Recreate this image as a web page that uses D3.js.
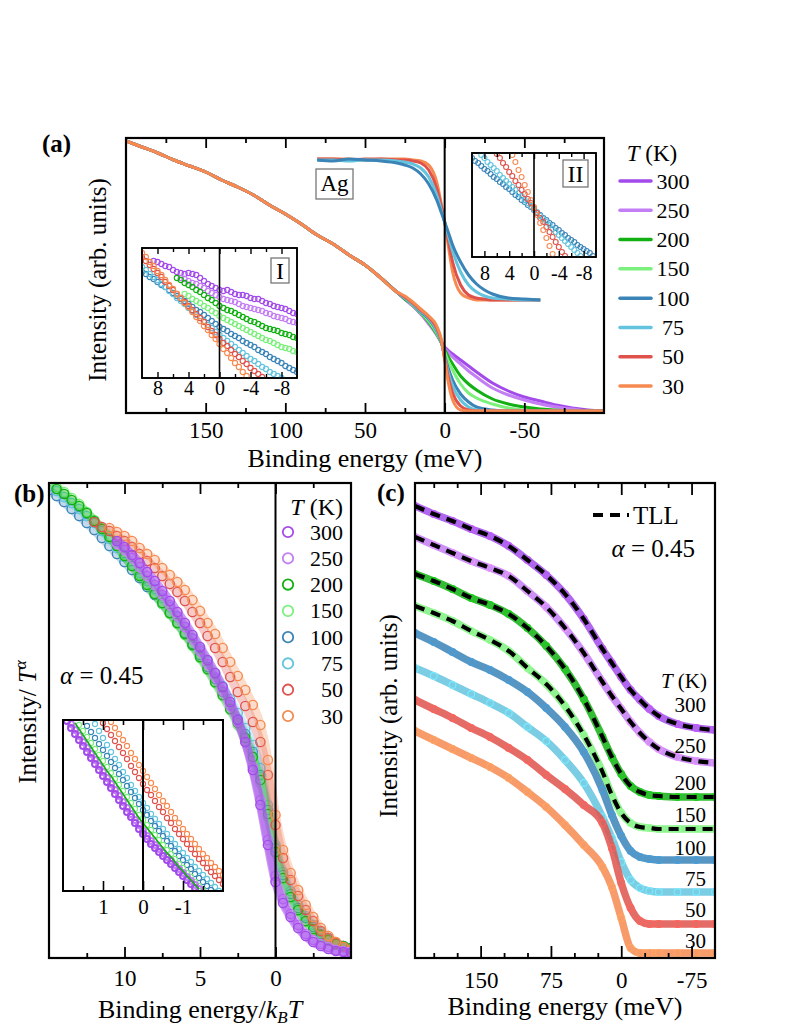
<!DOCTYPE html>
<html><head><meta charset="utf-8">
<script src="https://cdn.jsdelivr.net/npm/d3@7"></script>
<style>
body{margin:0;background:#fff;}
svg text{font-family:"Liberation Serif","DejaVu Serif","Times New Roman",serif !important;}
</style>
</head><body>
<script>
// ---------------- DATA ----------------
const temps = [300, 250, 200, 150, 100, 75, 50, 30];
const tempColors = ["#a24bea", "#c47ef5", "#12b012", "#7cf07c", "#3a84b8", "#64c4de", "#df524c", "#f68a50"];

// Panel (a): main spectra (binding energy in meV, intensity arb. units)
const aEnergyHigh = [200,190,180,170,160,150,140,130,120,110,100,90,80,70,60,50,40,30];
const aIntensityHigh = [272,266,260,253,247,241,233,226,218,208,199,189,178,169,158,148,135,121];
const aEnergyLow = [25,20,15,10,5,2,0,-2,-5,-10,-15,-20,-30,-40,-50,-60,-70,-80,-90,-100];
const aLow300 = [114,107,99,90,79,71,66,63,59,53,47,41,30,22,16,12,8,5,3,2];
const aLow250 = [114,107,99,89,78,70,65,61,56,49,42,36,25,18,13,9,6,4,2,2];
const aLow200 = [114,108,100,91,79,70,63,57,49,37,29,23,14,9,6,4,3,2,2,2];
const aLow150 = [115,108,100,92,80,70,61,53,43,29,20,15,9,5,3,2,2,2,2,2];
const aLow100 = [115,109,101,94,82,70,57,46,33,19,11,6,3,2,2,2,2,2,2,2];
const aLow75  = [115,109,102,95,83,71,56,42,27,13,6,3,2,2,2,2,2,2,2,2];
const aLow50  = [116,110,103,96,85,72,55,38,20,7,3,2,2,2,2,2,2,2,2,2];
const aLow30  = [117,111,104,97,87,73,53,33,13,3,2,2,2,2,2,2,2,2,2,2];

// Panel (a): Ag reference spectra
const agTemps = [100, 75, 50, 30];
const agEnergy = [80,70,60,50,40,30,25,20,15,10,5,2,0,-2,-5,-10,-15,-20,-25,-30,-40,-50,-60];
const ag100 = [253,252,254,253,252,250,248,245,239,229,213,200,191,182,168,151,138,129,123,119,115,114,113];
const ag75  = [253,253,252,253,253,252,251,249,245,236,218,202,191,179,162,141,128,121,117,115,114,113,113];
const ag50  = [254,254,253,254,254,253,253,252,250,243,225,206,191,175,151,128,118,115,114,113,113,113,113];
const ag30  = [254,254,254,253,254,254,254,253,252,248,231,208,191,170,141,120,115,113,113,113,113,113,113];

// Inset I and II energy grid (meV)
const insetEnergy = [10,9.5,9,8.5,8,7.5,7,6.5,6,5.5,5,4.5,4,3.5,3,2.5,2,1.5,1,0.5,0,-0.5,-1,-1.5,-2,-2.5,-3,-3.5,-4,-4.5,-5,-5.5,-6,-6.5,-7,-7.5,-8,-8.5,-9,-9.5,-10];
const insetI300 = [null,null,null,117,116,114,112,111,108,106,105,104,105,104,103,100,97,94,92,90,88,87,88,86,84,83,83,82,80,79,79,77,75,74,72,71,70,69,67,65,64];
const insetI250 = [null,null,null,null,null,null,null,null,null,null,100,99,97,95,94,92,90,87,85,83,81,79,78,77,76,74,72,71,70,69,68,67,65,64,62,61,60,59,57,56,55];
const insetI200 = [null,null,null,null,null,null,null,null,null,100,98,95,93,91,88,86,83,80,78,75,72,70,68,67,65,63,61,59,57,56,54,52,50,49,48,47,45,44,43,41,40];
const insetI150 = [null,null,null,null,null,null,null,null,null,null,null,84,82,79,77,75,72,70,67,65,62,60,58,56,54,52,50,48,46,44,42,40,38,37,35,33,31,30,29,27,26];
const insetI100 = [106,104,101,99,96,93,91,88,85,82,79,77,74,71,68,66,63,60,57,54,51,49,47,44,42,40,37,35,33,31,28,26,24,21,19,17,15,12,10,8,6];
const insetI75  = [111,108,104,101,98,94,91,87,84,80,77,74,70,67,63,60,57,53,50,46,43,40,37,34,31,28,25,22,19,17,14,11,9,6,4,2,0,null,null,null,null];
const insetI50  = [121,117,113,109,105,101,96,92,88,84,80,76,72,68,64,60,56,51,47,43,39,35,32,28,24,21,17,14,10,7,4,1,null,null,null,null,null,null,null,null,null];
const insetI30  = [125,121,116,112,107,103,98,93,89,84,80,75,71,66,61,57,52,48,43,39,34,29,25,20,15,11,6,2,null,null,null,null,null,null,null,null,null,null,null,null,null];

const insetII100 = [99,96,94,91,88,86,83,80,78,75,73,70,68,65,62,60,57,55,52,50,47,44,42,39,37,34,32,29,27,24,22,19,17,15,12,10,8,6,4,1,null];
const insetII75  = [null,null,null,102,99,95,92,89,86,82,79,76,73,70,67,64,61,57,54,51,48,45,41,38,35,32,28,25,22,19,16,13,10,7,4,1,null,null,null,null,null];
const insetII50  = [null,null,null,null,null,null,null,null,103,99,94,90,85,81,76,72,67,63,58,54,49,44,39,35,30,25,20,15,10,5,1,null,null,null,null,null,null,null,null,null,null];
const insetII30  = [null,null,null,null,null,null,null,null,null,null,null,null,null,102,95,87,80,72,65,57,50,42,34,27,19,11,3,null,null,null,null,null,null,null,null,null,null,null,null,null,null];

// Panel (b): binding energy / kBT and Intensity / T^alpha
const bScaled = [15,14.5,14,13.5,13,12.5,12,11.5,11,10.5,10,9.5,9,8.5,8,7.5,7,6.5,6,5.5,5,4.5,4,3.5,3,2.5,2,1.5,1,0.5,0,-0.5,-1,-1.5,-2,-2.5,-3,-3.5,-4,-4.5,-5];
const b300 = [null,null,null,null,null,null,null,null,null,417,411,403,395,386,377,367,357,346,335,323,311,298,285,271,256,238,216,188,153,113,76,55,41,30,22,16,12,9,7,6,5];
const b250 = [null,null,null,null,null,null,null,null,null,414,408,400,391,382,373,363,353,342,331,319,307,294,281,267,252,236,216,191,158,118,82,59,44,33,24,18,14,11,8,7,6];
const b200 = [null,469,464,458,452,445,437,429,421,412,402,392,382,373,364,355,345,335,324,313,301,289,276,263,249,235,220,201,178,144,106,80,61,48,37,29,23,18,14,12,10];
const b150 = [476,471,466,460,454,446,438,430,422,413,403,393,383,374,364,354,344,334,323,312,300,288,275,262,248,233,217,198,175,141,105,79,60,47,36,28,22,17,13,11,9];
const b100 = [468,462,456,449,442,435,428,420,412,404,396,388,380,371,363,354,345,335,325,314,303,291,279,266,253,239,224,206,183,148,110,83,64,50,40,31,24,19,15,12,9];
const b75  = [472,467,461,455,449,442,435,427,419,410,401,393,385,377,369,360,351,341,331,320,309,297,285,272,259,245,230,213,190,153,113,86,67,53,42,33,26,20,15,12,9];
const b50  = [null,null,null,null,null,null,436,431,427,422,417,411,404,397,390,382,374,366,357,346,335,322,310,296,281,266,252,236,216,183,133,100,78,62,48,37,27,20,15,11,8];
const b30  = [null,null,null,null,null,null,null,null,430,426,422,417,410,404,398,390,383,376,368,358,347,335,324,310,296,282,268,253,233,198,143,108,85,68,53,41,30,22,16,11,8];

// Panel (b) inset
const bInsetScaled = [2,1.9,1.8,1.7,1.6,1.5,1.4,1.3,1.2,1.1,1,0.9,0.8,0.7,0.6,0.5,0.4,0.3,0.2,0.1,0,-0.1,-0.2,-0.3,-0.4,-0.5,-0.6,-0.7,-0.8,-0.9,-1,-1.1,-1.2,-1.3,-1.4,-1.5,-1.6,-1.7,-1.8,-1.9,-2];
const bIn300 = [null,170,163,157,151,145,139,133,127,121,115,109,103,97,91,85,79,74,68,62,57,52,47,43,39,35,31,27,23,19,15,11,7,3,null,null,null,null,null,null,null];
const bIn250 = [null,null,167,161,155,149,143,137,131,125,119,113,107,101,95,89,83,77,71,66,60,55,50,46,42,38,34,30,26,22,18,14,10,6,2,null,null,null,null,null,null];
const bIn200 = [null,null,null,168,162,156,150,144,138,132,126,120,115,109,103,97,91,85,79,73,68,63,58,53,48,43,38,34,29,24,20,15,11,6,2,null,null,null,null,null,null];
const bIn150 = [null,null,null,null,166,160,154,148,142,136,130,124,118,112,106,100,94,88,82,76,71,66,61,56,51,46,41,37,32,27,23,18,14,9,5,1,null,null,null,null,null];
const bIn100 = [null,null,null,null,null,null,165,159,153,147,141,135,129,123,117,111,105,99,93,87,81,76,70,65,60,55,50,45,40,35,31,26,22,17,13,9,5,1,null,null,null];
const bIn75  = [null,null,null,null,null,null,null,null,167,160,153,146,139,132,126,119,113,106,100,94,88,83,77,72,67,62,57,52,47,42,38,33,29,24,20,16,12,8,4,0,null];
const bIn50  = [null,null,null,null,null,null,null,null,null,null,168,162,156,150,144,138,132,125,119,113,107,101,96,90,84,79,73,68,62,57,52,47,42,37,32,28,23,19,15,11,7];
const bIn30  = [null,null,null,null,null,null,null,null,null,null,null,null,169,163,157,151,145,138,132,126,120,114,108,102,96,90,85,79,73,68,62,57,52,47,42,37,33,28,24,20,16];

// Panel (c): offset spectra (meV, arb. units)
const cEnergy = [220,200,180,160,140,120,100,80,60,40,20,10,0,-10,-20,-30,-40,-60,-80,-100];
const c300 = [452,444,437,429,422,412,398,383,364,339,309,295,281,268,258,249,242,234,230,228];
const c250 = [421,413,405,397,390,382,367,351,330,305,276,262,249,236,225,216,209,201,197,195];
const c200 = [384,377,369,360,353,344,330,312,289,259,221,201,184,172,166,163,162,161,161,161];
const c150 = [352,345,337,327,318,307,290,274,252,223,186,163,145,135,131,130,129,129,129,129];
const c100 = [325,316,306,296,288,278,266,250,231,206,168,143,122,107,101,99,98,98,98,98];
const c75  = [290,282,273,264,255,245,231,217,198,175,141,120,96,78,70,67,66,66,66,66];
const c50  = [258,249,240,230,221,210,198,183,169,153,135,110,75,50,37,34,34,34,34,34];
const c30  = [227,218,209,200,191,180,166,151,133,113,91,71,40,10,5,5,5,5,5,5];
const tllTemps = [300, 250, 200, 150];

// Tick values
const aMajor = [150,100,50,0,-50], aMinor = [175,125,75,25,-25,-75];
const insetMajor = [8,4,0,-4,-8], insetMinor = [6,2,-2,-6];
const bMajor = [10,5,0], bMinor = [12.5,7.5,2.5,-2.5];
const bInMajor = [1,0,-1], bInMinor = [1.5,0.5,-0.5,-1.5];
const cMajor = [150,75,0,-75], cMinor = [200,175,125,100,50,25,-25,-50];

// ---------------- DRAWING ----------------
const FONT = '"Liberation Serif","DejaVu Serif","Times New Roman",serif';
const colorOf = t => tempColors[temps.indexOf(t)];
const svg = d3.select("body").append("svg").attr("width", 797).attr("height", 1032).style("display", "block");
svg.append("rect").attr("width", 797).attr("height", 1032).attr("fill", "#fff");
const defs = svg.append("defs");
function clip(id, x0, y0, x1, y1) {
  defs.append("clipPath").attr("id", id).append("rect")
    .attr("x", x0).attr("y", y0).attr("width", x1 - x0).attr("height", y1 - y0);
  return `url(#${id})`;
}
const fmt = d => d < 0 ? "-" + Math.abs(d) : String(d);
function axes(x, y0, y1, major, minor, majLen, minLen, fs, pad, sw) {
  const g = svg.append("g");
  const mk = (fn, vals, len, lab, ty) => {
    const a = g.append("g").attr("transform", `translate(0,${ty})`)
      .call(fn(x).tickValues(vals).tickSize(-len).tickPadding(pad).tickFormat(lab ? fmt : () => ""));
    a.select(".domain").remove();
    a.attr("font-size", fs).style("font-family", FONT);
    a.selectAll("line").attr("stroke", "#000").attr("stroke-width", sw);
    a.selectAll("text").attr("fill", "#000").style("font-family", FONT);
  };
  mk(d3.axisBottom, major, majLen, true, y1);
  mk(d3.axisBottom, minor, minLen, false, y1);
  mk(d3.axisTop, major, majLen, false, y0);
  mk(d3.axisTop, minor, minLen, false, y0);
}
function frame(x0, y0, x1, y1, sw, fill) {
  svg.append("rect").attr("x", x0).attr("y", y0).attr("width", x1 - x0).attr("height", y1 - y0)
    .attr("fill", fill || "none").attr("stroke", "#000").attr("stroke-width", sw);
}
function txt(x, y, s, fs, anchor, extra) {
  const t = svg.append("text").attr("x", x).attr("y", y).style("font-family", FONT)
    .attr("font-size", fs).attr("text-anchor", anchor || "start").attr("fill", "#000");
  if (extra) extra(t); else t.text(s);
  return t;
}
const zip = (xs, ys) => xs.map((v, i) => [v, ys[i]]).filter(d => d[1] !== null && d[1] !== undefined);

// ===== Panel (a) =====
const xA = d3.scaleLinear().domain([200, -100]).range([126, 604]);
const yA = d3.scaleLinear().domain([0, 275]).range([413, 138]);
const gA = svg.append("g").attr("clip-path", clip("clipA", 126, 138, 604, 413));
const lineA = d3.line().x(d => xA(d[0])).y(d => yA(d[1])).curve(d3.curveMonotoneX);
const aLows = [aLow300, aLow250, aLow200, aLow150, aLow100, aLow75, aLow50, aLow30];
temps.forEach((t, i) => {
  const pts = zip(aEnergyHigh, aIntensityHigh).concat(zip(aEnergyLow, aLows[i]));
  gA.append("path").attr("d", lineA(pts)).attr("fill", "none")
    .attr("stroke", tempColors[i]).attr("stroke-width", 3);
});
const agSeries = [ag100, ag75, ag50, ag30];
[3, 2, 1, 0].forEach(k => {
  gA.append("path").attr("d", lineA(zip(agEnergy, agSeries[k]))).attr("fill", "none")
    .attr("stroke", colorOf(agTemps[k])).attr("stroke-width", 3);
});
svg.append("line").attr("x1", xA(0)).attr("x2", xA(0)).attr("y1", 138).attr("y2", 413)
  .attr("stroke", "#000").attr("stroke-width", 2);
frame(126, 138, 604, 413, 2.2);
axes(xA, 138, 413, aMajor, aMinor, 10, 5, 23, 9, 1.8);
// Ag box
svg.append("rect").attr("x", 316).attr("y", 169).attr("width", 37).attr("height", 30)
  .attr("fill", "#fff").attr("stroke", "#777").attr("stroke-width", 1.3);
txt(334.5, 191, "Ag", 23, "middle");

// Insets with open-circle markers
function circleInset(x0, y0, x1, y1, xDom, yDom, xs, seriesList, tlist, id, r, sw) {
  frame(x0, y0, x1, y1, 1.6, "#fff");
  const x = d3.scaleLinear().domain(xDom).range([x0, x1]);
  const y = d3.scaleLinear().domain(yDom).range([y1, y0]);
  const g = svg.append("g").attr("clip-path", clip(id, x0, y0, x1, y1));
  seriesList.forEach((s, i) => {
    g.selectAll(null).data(zip(xs, s)).enter().append("circle")
      .attr("cx", d => x(d[0])).attr("cy", d => y(d[1])).attr("r", r)
      .attr("fill", "none").attr("stroke", colorOf(tlist[i])).attr("stroke-width", sw);
  });
  svg.append("line").attr("x1", x(0)).attr("x2", x(0)).attr("y1", y0).attr("y2", y1)
    .attr("stroke", "#000").attr("stroke-width", 1.6);
  frame(x0, y0, x1, y1, 1.6);
  return x;
}
const xI1 = circleInset(142, 248, 297, 378, [10, -10], [0, 130], insetEnergy,
  [insetI300, insetI250, insetI200, insetI150, insetI100, insetI75, insetI50, insetI30], temps, "clipI1", 2.6, 1.1);
axes(xI1, 248, 378, insetMajor, insetMinor, 6, 4, 20, 3, 1.4);
svg.append("rect").attr("x", 271).attr("y", 258).attr("width", 18).attr("height", 25)
  .attr("fill", "#fff").attr("stroke", "#777").attr("stroke-width", 1.3);
txt(280, 279, "I", 24, "middle");

const xI2 = circleInset(472, 153, 596, 257, [10, -10], [0, 104], insetEnergy,
  [insetII100, insetII75, insetII50, insetII30], agTemps, "clipI2", 2.5, 1.1);
axes(xI2, 153, 257, insetMajor, insetMinor, 6, 4, 20, 9, 1.4);
svg.append("rect").attr("x", 563).attr("y", 160).attr("width", 25).attr("height", 27)
  .attr("fill", "#fff").attr("stroke", "#777").attr("stroke-width", 1.3);
txt(575.5, 182, "II", 24, "middle");

// legend (a)
txt(652, 161, null, 23, "middle", t => { t.append("tspan").attr("font-style", "italic").text("T"); t.append("tspan").text(" (K)"); });
const legAy = d3.scalePoint().domain(temps).range([181, 386]);
temps.forEach((t, i) => {
  svg.append("line").attr("x1", 620).attr("x2", 651).attr("y1", legAy(t)).attr("y2", legAy(t))
    .attr("stroke", tempColors[i]).attr("stroke-width", 3.5).attr("stroke-linecap", "round");
  txt(673, legAy(t) + 7.5, String(t), 22, "middle");
});
// labels (a)
txt(42, 152, "(a)", 25, "start").attr("font-weight", "bold");
txt(365, 467, "Binding energy (meV)", 26, "middle");
svg.append("text").attr("transform", "translate(106,280) rotate(-90)").attr("text-anchor", "middle")
  .style("font-family", FONT).attr("font-size", 25).text("Intensity (arb. units)");

// ===== Panel (b) =====
const xB = d3.scaleLinear().domain([15, -5]).range([49, 351]);
const yB = d3.scaleLinear().domain([0, 475]).range([958, 483]);
const gB = svg.append("g").attr("clip-path", clip("clipB", 49, 483, 351, 958));
const lineB = d3.line().x(d => xB(d[0])).y(d => yB(d[1])).curve(d3.curveMonotoneX);
const bSeries = {300: b300, 250: b250, 200: b200, 150: b150, 100: b100, 75: b75, 50: b50, 30: b30};
[100, 75, 150, 200, 50, 30, 250, 300].forEach(t => {
  const pts = zip(bScaled, bSeries[t]);
  gB.append("path").attr("d", lineB(pts)).attr("fill", "none").attr("stroke", colorOf(t))
    .attr("stroke-width", 9).attr("stroke-opacity", t >= 250 ? 0.55 : 0.3).attr("stroke-linecap", "round");
  gB.selectAll(null).data(pts).enter().append("circle")
    .attr("cx", d => xB(d[0])).attr("cy", d => yB(d[1])).attr("r", 4.6)
    .attr("fill", "none").attr("stroke", colorOf(t)).attr("stroke-width", 1.4);
});
svg.append("line").attr("x1", xB(0)).attr("x2", xB(0)).attr("y1", 483).attr("y2", 958)
  .attr("stroke", "#000").attr("stroke-width", 2);
frame(49, 483, 351, 958, 2.2);
axes(xB, 483, 958, bMajor, bMinor, 11, 5, 23, 12, 1.8);

// inset (b)
{
  const x0 = 63, y0 = 720, x1 = 223, y1 = 891;
  frame(x0, y0, x1, y1, 1.8, "#fff");
  const x = d3.scaleLinear().domain([2, -2]).range([x0, x1]);
  const y = d3.scaleLinear().domain([0, 171]).range([y1, y0]);
  const g = svg.append("g").attr("clip-path", clip("clipBi", x0, y0, x1, y1));
  const ins = {300: bIn300, 250: bIn250, 200: bIn200, 150: bIn150, 100: bIn100, 75: bIn75, 50: bIn50, 30: bIn30};
  [30, 50, 75, 100, 150, 250, 300].forEach(t => {
    g.selectAll(null).data(zip(bInsetScaled, ins[t])).enter().append("circle")
      .attr("cx", d => x(d[0])).attr("cy", d => y(d[1])).attr("r", t >= 250 ? 3 : 2.6)
      .attr("fill", "none").attr("stroke", colorOf(t)).attr("stroke-width", t >= 250 ? 2 : 1.1);
  });
  const ln = d3.line().x(d => x(d[0])).y(d => y(d[1])).curve(d3.curveMonotoneX);
  g.append("path").attr("d", ln(zip(bInsetScaled, bIn200))).attr("fill", "none")
    .attr("stroke", colorOf(200)).attr("stroke-width", 1.6);
  svg.append("line").attr("x1", x(0)).attr("x2", x(0)).attr("y1", y0).attr("y2", y1)
    .attr("stroke", "#000").attr("stroke-width", 2);
  frame(x0, y0, x1, y1, 2);
  axes(x, y0, y1, bInMajor, bInMinor, 10, 5, 21, 8, 1.6);
}
// legend (b)
txt(343, 515, null, 24, "end", t => { t.append("tspan").attr("font-style", "italic").text("T"); t.append("tspan").text(" (K)"); });
const legBy = d3.scalePoint().domain(temps).range([532, 716]);
temps.forEach((t, i) => {
  svg.append("circle").attr("cx", 288).attr("cy", legBy(t)).attr("r", 5.2)
    .attr("fill", "none").attr("stroke", tempColors[i]).attr("stroke-width", 1.8);
  txt(343, legBy(t) + 7.5, String(t), 22, "end");
});
txt(60, 684, null, 25, "start", t => { t.append("tspan").attr("font-style", "italic").text("α"); t.append("tspan").text(" = 0.45"); });
txt(14, 502, "(b)", 25, "start").attr("font-weight", "bold");
txt(200, 1018, null, 26, "middle", t => {
  t.append("tspan").text("Binding energy/");
  t.append("tspan").attr("font-style", "italic").text("k");
  t.append("tspan").attr("font-style", "italic").attr("font-size", 17).attr("dy", 5).text("B");
  t.append("tspan").attr("font-style", "italic").attr("dy", -5).text("T");
});
svg.append("text").attr("transform", "translate(36,722) rotate(-90)").attr("text-anchor", "middle")
  .style("font-family", FONT).attr("font-size", 25).call(t => {
    t.append("tspan").text("Intensity/ ");
    t.append("tspan").attr("font-style", "italic").text("T");
    t.append("tspan").attr("font-style", "italic").attr("font-size", 17).attr("dy", -10).text("α");
  });

// ===== Panel (c) =====
const xC = d3.scaleLinear().domain([220, -100]).range([415, 715]);
const yC = d3.scaleLinear().domain([0, 475]).range([958, 483]);
const gC = svg.append("g").attr("clip-path", clip("clipC", 415, 483, 715, 958));
const lineC = d3.line().x(d => xC(d[0])).y(d => yC(d[1])).curve(d3.curveMonotoneX);
const cSeries = {300: c300, 250: c250, 200: c200, 150: c150, 100: c100, 75: c75, 50: c50, 30: c30};
temps.forEach(t => {
  const pts = zip(cEnergy, cSeries[t]);
  gC.append("path").attr("d", lineC(pts)).attr("fill", "none").attr("stroke", colorOf(t))
    .attr("stroke-width", 7.5).attr("stroke-opacity", 0.85);
  gC.selectAll(null).data(pts).enter().append("circle")
    .attr("cx", d => xC(d[0])).attr("cy", d => yC(d[1])).attr("r", 3.4)
    .attr("fill", "none").attr("stroke", d3.color(colorOf(t)).brighter(0.5)).attr("stroke-width", 1.1);
});
tllTemps.forEach(t => {
  gC.append("path").attr("d", lineC(zip(cEnergy, cSeries[t]))).attr("fill", "none")
    .attr("stroke", "#000").attr("stroke-width", 4.2).attr("stroke-dasharray", "10,7");
});
frame(415, 483, 715, 958, 2.2);
axes(xC, 483, 958, cMajor, cMinor, 12, 5, 23, 14, 1.8);
// legend (c)
svg.append("line").attr("x1", 593).attr("x2", 629).attr("y1", 515).attr("y2", 515)
  .attr("stroke", "#000").attr("stroke-width", 4.2).attr("stroke-dasharray", "10,7");
txt(633, 524, "TLL", 25, "start");
txt(695, 557, null, 25, "end", t => { t.append("tspan").attr("font-style", "italic").text("α"); t.append("tspan").text(" = 0.45"); });
txt(707, 688, null, 21, "end", t => { t.append("tspan").attr("font-style", "italic").text("T"); t.append("tspan").text(" (K)"); });
const cLabelLift = [18, 10, 7, 7, 5, 6, 7, 5];
temps.forEach((t, i) => {
  const s = cSeries[t];
  txt(706, yC(s[s.length - 1]) - cLabelLift[i], String(t), 21, "end");
});
txt(377, 501, "(c)", 25, "start").attr("font-weight", "bold");
txt(565, 1015, "Binding energy (meV)", 26, "middle");
svg.append("text").attr("transform", "translate(397,716) rotate(-90)").attr("text-anchor", "middle")
  .style("font-family", FONT).attr("font-size", 25).text("Intensity (arb. units)");
</script>
</body></html>
